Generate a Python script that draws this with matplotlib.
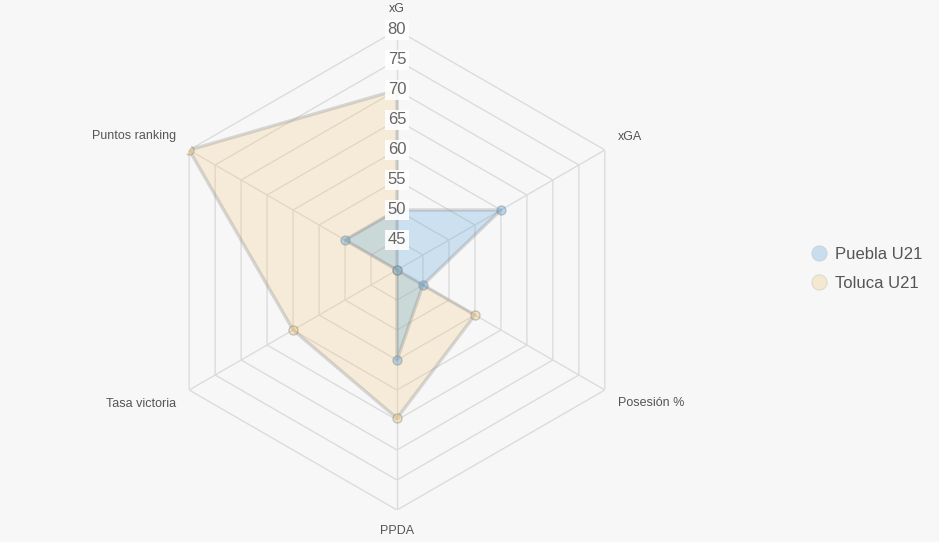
import numpy as np
import matplotlib
matplotlib.use("Agg")
import matplotlib.pyplot as plt
from matplotlib.lines import Line2D

plt.rcParams['font.family'] = ['Liberation Sans', 'DejaVu Sans']

indicators = ["xG", "xGA", "Posesión %", "PPDA", "Tasa victoria", "Puntos ranking"]
series_names = ["Puebla U21", "Toluca U21"]
puebla = [50, 60, 45, 55, 40, 50]
toluca = [70, 40, 55, 64.7, 60, 80]
ring_levels = [45, 50, 55, 60, 65, 70, 75, 80]
r_min, r_max = 40, 80

fill_colors = ["#5da5da", "#f2c878"]
bg = "#f7f7f7"

W, H = 939, 542
fig = plt.figure(figsize=(W / 100, H / 100), dpi=100, facecolor=bg)
cx, cy, R = 397, 270, 240
ax = fig.add_axes([(cx - R) / W, (H - cy - R) / H, 2 * R / W, 2 * R / H], projection='polar')
ax.set_theta_zero_location('N')
ax.set_theta_direction(-1)
ax.set_ylim(r_min, r_max)
ax.patch.set_visible(False)
ax.spines['polar'].set_visible(False)
ax.grid(False)
ax.set_xticks([])
ax.set_yticks([])

n = len(indicators)
angles = np.arange(n) * 2 * np.pi / n
closed = np.append(angles, angles[0])

grid_color = "#dcdcdc"
for lv in ring_levels:
    ax.plot(closed, [lv] * (n + 1), color=grid_color, lw=1, zorder=1)
for a in angles:
    ax.plot([a, a], [r_min, r_max], color=grid_color, lw=1, zorder=1)

for vals, col, al, z in [(puebla, fill_colors[0], 0.27, 3), (toluca, fill_colors[1], 0.24, 2)]:
    v = np.append(vals, vals[0])
    ax.fill(closed, v, color=col, alpha=al, lw=0, zorder=z)
    ax.plot(closed, v, color="#808080", alpha=0.28, lw=2.4, zorder=z + 0.1)
    ax.plot(angles, vals, 'o', ms=6.5, mfc=col, mec="#808080", mew=1.0, alpha=0.4, zorder=z + 0.2)

for lv in ring_levels:
    ax.text(0, lv, str(lv), ha='center', va='center', fontsize=12, color="#666666",
            bbox=dict(boxstyle='square,pad=0.15', fc='white', ec='none', alpha=0.9), zorder=10)

name_r = r_min + (r_max - r_min) * 255 / 240
for a, name in zip(angles, indicators):
    s, c = np.sin(a), np.cos(a)
    ha = 'center' if abs(s) < 0.01 else ('left' if s > 0 else 'right')
    va = 'center' if abs(c) < 0.01 else ('bottom' if c > 0 else 'top')
    ax.text(a, name_r, name, ha=ha, va=va, fontsize=9, color="#555555", zorder=10)

handles = [Line2D([], [], marker='o', ls='none', ms=11, mfc=col, mec="#aaaaaa", mew=0.8, alpha=0.3)
           for col in fill_colors]
leg = fig.legend(handles, series_names, loc='center left', bbox_to_anchor=(794 / W, (H - 269) / H),
                 frameon=False, fontsize=12, labelcolor="#555555", handletextpad=0.35,
                 handlelength=1.2, labelspacing=0.85)

fig.savefig("out.png", dpi=100, facecolor=bg)
